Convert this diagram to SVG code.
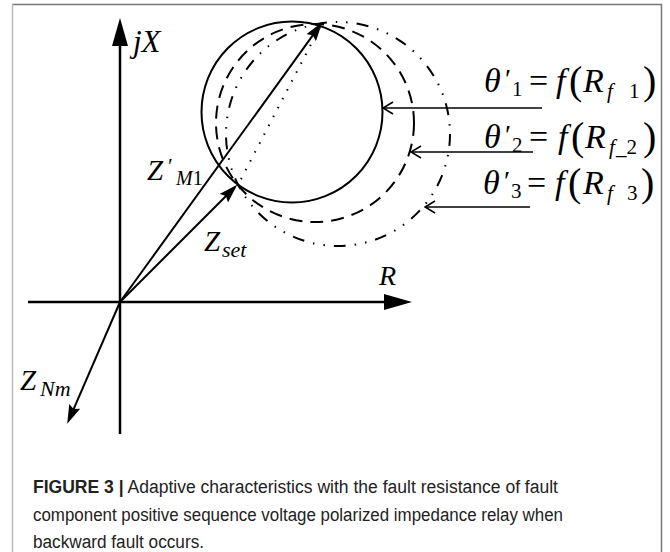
<svg xmlns="http://www.w3.org/2000/svg" width="670" height="552" viewBox="0 0 670 552">
<style>
.ax{stroke:#000;stroke-width:2.5;fill:none}
.vec{stroke:#000;stroke-width:2;fill:none}
.lead{stroke:#000;stroke-width:1.6;fill:none}
.m{font-family:"Liberation Serif","DejaVu Serif",serif;font-style:italic;fill:#000}
.n{font-family:"Liberation Serif","DejaVu Serif",serif;font-style:normal;fill:#000}
.cap{font-family:"Liberation Sans",Arial,sans-serif;font-size:18px;fill:#222}
</style>
<defs>
<marker id="axh" viewBox="0 0 28 16" refX="18" refY="8" markerWidth="28" markerHeight="16" markerUnits="userSpaceOnUse" orient="auto"><path d="M0,0 L28,8 L0,16 Z" fill="#000"/></marker>
<marker id="vh" viewBox="0 0 19 12" refX="13" refY="6" markerWidth="19" markerHeight="12" markerUnits="userSpaceOnUse" orient="auto"><path d="M0,0 L19,6 L0,12 L3,6 Z" fill="#000"/></marker>
<marker id="oh" viewBox="0 0 12 14" refX="11" refY="7" markerWidth="12" markerHeight="14" markerUnits="userSpaceOnUse" orient="auto"><path d="M1,1 L11,7 L1,13" fill="none" stroke="#000" stroke-width="1.6"/></marker>
</defs>
<rect width="670" height="552" fill="#fff"/>
<g id="frame">
<line x1="12" y1="4.5" x2="662" y2="4.5" stroke="#777" stroke-width="1.5"/>
<line x1="12.5" y1="4" x2="12.5" y2="552" stroke="#bbb" stroke-width="1.5"/>
<line x1="661.5" y1="4" x2="661.5" y2="552" stroke="#777" stroke-width="1.5"/>
</g>
<g id="axes">
<line class="ax" x1="120" y1="434" x2="120" y2="28" marker-end="url(#axh)"/>
<line class="ax" x1="28" y1="302" x2="402" y2="302" marker-end="url(#axh)"/>
</g>
<g id="circles">
<circle id="circle-1" cx="292" cy="112" r="90.5" fill="none" stroke="#000" stroke-width="2"/>
<circle id="circle-2" cx="315" cy="123" r="99" fill="none" stroke="#000" stroke-width="2" stroke-dasharray="13 8"/>
<circle id="circle-3" cx="338" cy="134" r="112" fill="none" stroke="#000" stroke-width="2" stroke-dasharray="12 9 1.5 9 1.5 9"/>
</g>
<g id="connectors">
<line class="vec" x1="120" y1="302" x2="318.7" y2="27.2" marker-end="url(#vh)"/>
<line class="vec" x1="120" y1="302" x2="233" y2="189" marker-end="url(#vh)"/>
<line class="vec" x1="120" y1="302" x2="69.6" y2="418.3" marker-end="url(#vh)"/>
<line x1="320" y1="27" x2="239" y2="183" stroke="#000" stroke-width="2" stroke-dasharray="1.5 8.5"/>
<line class="lead" x1="542" y1="108" x2="383" y2="108" marker-end="url(#oh)"/>
<line class="lead" x1="533" y1="152" x2="411" y2="152" marker-end="url(#oh)"/>
<line class="lead" x1="530" y1="207" x2="425" y2="207" marker-end="url(#oh)"/>
</g>
<g id="label-jX"><text class="m" x="133" y="52" font-size="31">jX</text></g>
<g id="label-R"><text class="m" x="379" y="285" font-size="28">R</text></g>
<g id="label-ZM1"><text class="m" x="147" y="180" font-size="29">Z<tspan class="n" x="168" y="173" font-size="22">′</tspan><tspan x="176" y="185" font-size="20">M</tspan><tspan class="n" font-size="20">1</tspan></text></g>
<g id="label-Zset"><text class="m" x="204" y="251" font-size="29">Z<tspan x="222" y="257" font-size="22">set</tspan></text></g>
<g id="label-ZNm"><text class="m" x="20" y="390" font-size="29">Z<tspan x="40" y="396" font-size="22">Nm</tspan></text></g>
<g id="label-theta1"><text class="m" font-size="34" y="92"><tspan x="484">θ</tspan><tspan class="n" x="505" y="88" font-size="28">′</tspan><tspan class="n" x="512" y="96" font-size="21">1</tspan><tspan class="n" x="529" y="92">=</tspan><tspan x="556">f</tspan><tspan class="n" x="569" y="94" font-size="40">(</tspan><tspan x="583" y="92">R</tspan><tspan x="607" y="98" font-size="21">f</tspan><tspan class="n" x="629" y="98" font-size="21">1</tspan><tspan class="n" x="643" y="94" font-size="40">)</tspan></text></g>
<g id="label-theta2"><text class="m" font-size="34" y="148"><tspan x="484">θ</tspan><tspan class="n" x="505" y="144" font-size="28">′</tspan><tspan class="n" x="512" y="152" font-size="21">2</tspan><tspan class="n" x="529" y="148">=</tspan><tspan x="558">f</tspan><tspan class="n" x="571" y="150" font-size="40">(</tspan><tspan x="585" y="148">R</tspan><tspan x="609" y="154" font-size="21">f</tspan><tspan class="n" x="616" y="154" font-size="21">_2</tspan><tspan class="n" x="643" y="150" font-size="40">)</tspan></text></g>
<g id="label-theta3"><text class="m" font-size="34" y="194"><tspan x="483">θ</tspan><tspan class="n" x="504" y="190" font-size="28">′</tspan><tspan class="n" x="511" y="198" font-size="21">3</tspan><tspan class="n" x="527" y="194">=</tspan><tspan x="555">f</tspan><tspan class="n" x="568" y="196" font-size="40">(</tspan><tspan x="583" y="194">R</tspan><tspan x="607" y="200" font-size="21">f</tspan><tspan class="n" x="627" y="200" font-size="21">3</tspan><tspan class="n" x="641" y="196" font-size="40">)</tspan></text></g>
<g id="caption">
<text class="cap" x="33" y="493" textLength="525" lengthAdjust="spacingAndGlyphs"><tspan font-weight="bold">FIGURE 3 |</tspan> Adaptive characteristics with the fault resistance of fault</text>
<text class="cap" x="33" y="521" textLength="530" lengthAdjust="spacingAndGlyphs">component positive sequence voltage polarized impedance relay when</text>
<text class="cap" x="33" y="548" textLength="171" lengthAdjust="spacingAndGlyphs">backward fault occurs.</text>
</g>
</svg>
